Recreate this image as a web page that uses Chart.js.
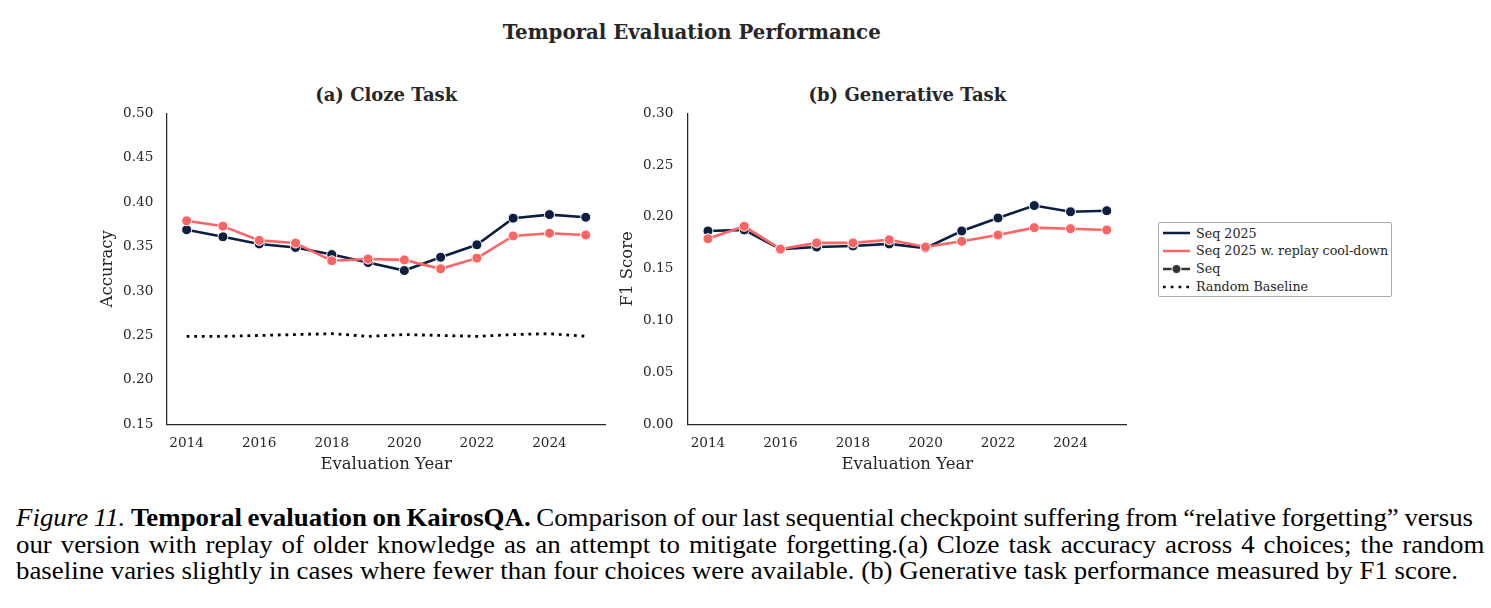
<!DOCTYPE html>
<html><head><meta charset="utf-8">
<script src="https://cdn.jsdelivr.net/npm/chart.js@4.4.0/dist/chart.umd.min.js"></script>
<style>
html,body{margin:0;padding:0;background:#fff;width:1491px;height:608px;overflow:hidden;position:relative}
.abs{position:absolute}
#mainTitle{left:0;width:1383.4px;top:19.9px;text-align:center;font:bold 19.8px 'DejaVu Serif';color:#262626;line-height:normal;white-space:nowrap}
.sub{top:84px;text-align:center;font:bold 18px 'DejaVu Serif';color:#262626;line-height:normal;white-space:nowrap}
#legend{left:1158px;top:222px;width:234px;height:75px;border:1px solid #aaaaaa;border-radius:2px;box-sizing:border-box;background:#fff}
.row{position:absolute;left:0;height:18px;display:flex;align-items:center;font:12.7px 'DejaVu Serif';color:#262626;white-space:nowrap}
.row svg{margin-left:4px;margin-right:6px}
.cap{position:absolute;left:16px;font:24.5px 'Liberation Serif';color:#000;line-height:26.5px;white-space:nowrap;transform-origin:0 0}
canvas{position:absolute}
</style></head>
<body>
<div id="mainTitle" class="abs">Temporal Evaluation Performance</div>
<div class="abs sub" style="left:166.7px;width:439px">(a) Cloze Task</div>
<div class="abs sub" style="left:688px;width:438.7px">(b) Generative Task</div>
<canvas id="c1" width="520" height="430" style="left:95px;top:60px"></canvas>
<canvas id="c2" width="525" height="430" style="left:615px;top:60px"></canvas>
<div id="legend" class="abs">
  <div class="row" style="top:1px"><svg width="27" height="10"><line x1="0" y1="5" x2="27" y2="5" stroke="#0c1f40" stroke-width="2.5"/></svg>Seq 2025</div>
  <div class="row" style="top:18.5px"><svg width="27" height="10"><line x1="0" y1="5" x2="27" y2="5" stroke="#fd6464" stroke-width="2.5"/></svg>Seq 2025 w. replay cool-down</div>
  <div class="row" style="top:36.5px"><svg width="27" height="12"><line x1="0" y1="6" x2="27" y2="6" stroke="#333333" stroke-width="2.5"/><circle cx="13.5" cy="6" r="4.5" fill="#333333" stroke="#fff" stroke-width="1"/></svg>Seq</div>
  <div class="row" style="top:54.5px"><svg width="27" height="10"><line x1="0" y1="5" x2="27" y2="5" stroke="#000" stroke-width="2.6" stroke-dasharray="2.6 5.2"/></svg>Random Baseline</div>
</div>
<div id="cap1" class="cap" style="top:505.2px"><i>Figure 11.</i>&nbsp;<b>Temporal evaluation on KairosQA.</b> Comparison of our last sequential checkpoint suffering from “relative forgetting” versus</div>
<div id="cap2" class="cap" style="top:531.8px">our version with replay of older knowledge as an attempt to mitigate forgetting.(a) Cloze task accuracy across 4 choices; the random</div>
<div id="cap3" class="cap" style="top:558px">baseline varies slightly in cases where fewer than four choices were available. (b) Generative task performance measured by F1 score.</div>
<script>
// ---- data ----
const years = [2014,2015,2016,2017,2018,2019,2020,2021,2022,2023,2024,2025];
const xTickYears = [2014,2016,2018,2020,2022,2024];
const clozeSeq2025 = [0.369,0.361,0.353,0.349,0.341,0.332,0.323,0.338,0.352,0.382,0.386,0.383];
const clozeReplay  = [0.379,0.373,0.357,0.354,0.334,0.336,0.335,0.325,0.337,0.362,0.365,0.363];
const clozeRandom  = [0.249,0.249,0.250,0.251,0.252,0.249,0.251,0.250,0.249,0.251,0.252,0.249];
const genSeq2025   = [0.1865,0.1875,0.169,0.171,0.172,0.174,0.170,0.1865,0.199,0.211,0.205,0.206];
const genReplay    = [0.179,0.191,0.169,0.175,0.175,0.178,0.171,0.1765,0.1826,0.1897,0.1887,0.1875];
const yTicksCloze = [0.15,0.20,0.25,0.30,0.35,0.40,0.45,0.50];
const yTicksGen   = [0.00,0.05,0.10,0.15,0.20,0.25,0.30];

const NAVY = '#0c1f40', RED = '#fd6464', TXT = '#262626';
const pts = arr => arr.map((v,i)=>({x:years[i], y:v}));

function lineDs(label, data, color, order){
  return {label, data: pts(data), borderColor: color, backgroundColor: color,
    borderWidth: 2.6, pointRadius: 5, pointBorderWidth: 1, pointBorderColor: '#fff',
    pointBackgroundColor: color, tension: 0, order};
}

function makeChart(id, datasets, yTicks, yTitle, opt){
  const ctx = document.getElementById(id);
  return new Chart(ctx, {
    type: 'line',
    data: {datasets},
    options: {
      responsive: false, animation: false, devicePixelRatio: 1,
      layout: {padding: {top: 53.3, right: opt.padRight, bottom: 0, left: 0}},
      plugins: {legend: {display: false}, tooltip: {enabled: false}, title: {display: false}},
      scales: {
        x: {
          type: 'linear', min: 2013.45, max: 2025.55,
          afterBuildTicks: s => { s.ticks = xTickYears.map(v=>({value:v})); },
          afterFit: s => { s.height = 65.7; },
          grid: {display: false, drawTicks: false},
          border: {display: true, color: TXT, width: 1.25},
          ticks: {padding: 11.4, color: TXT, font: {family: 'DejaVu Serif', size: 13.6}, callback: v => String(v), maxRotation: 0, autoSkip: false},
          title: {display: true, text: 'Evaluation Year', color: TXT, font: {family: 'DejaVu Serif', size: 16.5}, padding: {top: 0, bottom: 15.8}}
        },
        y: {
          type: 'linear', min: yTicks[0], max: yTicks[yTicks.length-1],
          afterBuildTicks: s => { s.ticks = yTicks.map(v=>({value:v})); },
          afterFit: s => { s.width = opt.yWidth; },
          grid: {display: false, drawTicks: false},
          border: {display: true, color: TXT, width: 1.25},
          ticks: {padding: opt.tickPad, color: TXT, font: {family: 'DejaVu Serif', size: 13.6}, callback: v => Number(v).toFixed(2), autoSkip: false},
          title: {display: true, text: yTitle, color: TXT, font: {family: 'DejaVu Serif', size: 16.5}, padding: {top: 2.6, bottom: 0}}
        }
      }
    }
  });
}

makeChart('c1', [
  lineDs('Seq 2025', clozeSeq2025, NAVY, 1),
  lineDs('Seq 2025 w. replay cool-down', clozeReplay, RED, 0),
  {label: 'Random Baseline', data: pts(clozeRandom), borderColor: '#000', borderWidth: 2.8,
   borderDash: [2.8, 4.8], borderCapStyle: 'butt', pointRadius: 0, tension: 0, order: 2}
], yTicksCloze, 'Accuracy', {padRight: 9.3, yWidth: 71.7, tickPad: 13.4});

makeChart('c2', [
  lineDs('Seq 2025', genSeq2025, NAVY, 1),
  lineDs('Seq 2025 w. replay cool-down', genReplay, RED, 0)
], yTicksGen, 'F1 Score', {padRight: 13.3, yWidth: 73, tickPad: 14.7});

// fit caption lines to the reference widths
(function(){
  const c1 = document.getElementById('cap1'), c2 = document.getElementById('cap2'), c3 = document.getElementById('cap3');
  const w3 = c3.getBoundingClientRect().width;
  const s = 1442 / w3;
  [c1,c2,c3].forEach(c => { c.style.transform = 'scaleX(' + s + ')'; });
  [[c1,1457],[c2,1468]].forEach(([c,target]) => {
    const w = c.scrollWidth;
    const words = c.textContent.trim().split(/\s+/).length - 1;
    const extra = (target / s - w) / words;
    c.style.wordSpacing = extra + 'px';
  });
})();
</script>
</body></html>
